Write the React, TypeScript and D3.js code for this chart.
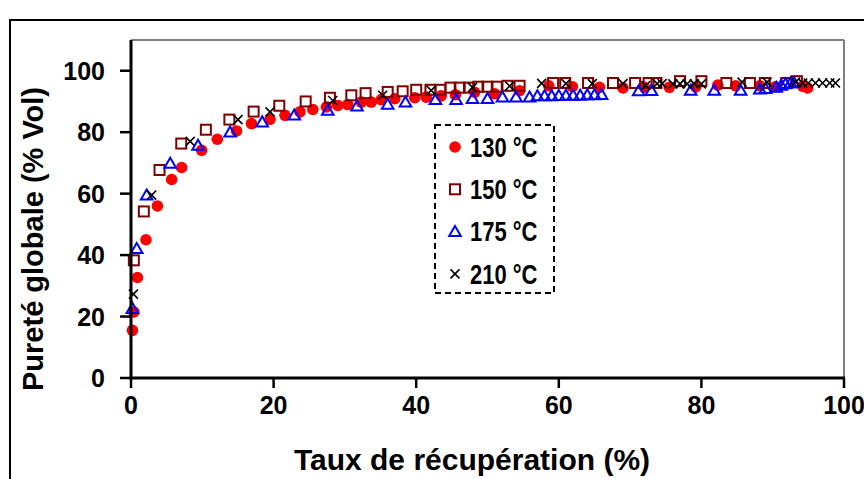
import React from "react";
import * as d3 from "d3";

const xTicks = [0, 20, 40, 60, 80, 100];
const yTicks = [0, 20, 40, 60, 80, 100];

const s130x = [0.2, 0.4, 0.9, 2.1, 3.7, 5.7, 7.1, 9.9, 12.1, 14.8, 16.9, 19.5, 21.6, 23.7, 25.5, 27.4, 29, 30.4, 32.3, 33.7, 35.1, 37, 39.8, 41.4, 43.5, 45.5, 48.2, 51, 54.5, 58.6, 61.9, 65.7, 69, 72, 75.5, 79.2, 82.3, 84.8, 88.2, 90.4, 94.2, 94.9];
const s130y = [15.5, 21.5, 32.7, 45, 56, 64.6, 68.5, 74.1, 77.7, 80.4, 82.8, 84.2, 85.5, 86.6, 87.4, 88.2, 88.7, 89, 89.8, 89.8, 90.6, 90.9, 91.2, 91.4, 91.8, 92.2, 93, 92.5, 93.5, 95.1, 94.8, 94.6, 94.4, 94.6, 94.6, 94.7, 95.3, 95.1, 95.1, 94.8, 95, 94.4];

const s150x = [0.4, 1.8, 4.0, 7.05, 10.5, 13.8, 17.2, 20.8, 24.5, 27.9, 30.9, 32.9, 36, 38.1, 40, 42, 43.4, 44.8, 46.1, 47.4, 48.7, 50, 51.3, 52.8, 54.5, 59.2, 60.9, 64.1, 67.6, 70.7, 72.6, 73.7, 77, 80, 83.5, 86.8, 88.9, 91.9, 93.4];
const s150y = [38.3, 54.2, 67.7, 76.3, 80.8, 84.1, 86.7, 88.6, 90, 91.2, 92, 92.7, 93.1, 93.3, 93.8, 93.8, 93.8, 94.5, 94.5, 94.5, 94.8, 94.8, 94.8, 95.1, 95.1, 96, 96, 96, 96, 96, 96, 96, 96.6, 96.6, 96, 96, 96, 96, 96.6];

const s175x = [0.2, 0.8, 2.2, 5.5, 9.4, 13.9, 18.4, 22.9, 27.6, 31.7, 36, 38.5, 42.7, 45.6, 47.9, 50, 52.1, 54, 55.9, 57, 58, 59, 60, 61, 62, 63, 64, 65, 66, 71.2, 73, 78.5, 81.8, 85.5, 88.2, 89, 90.5, 91.2, 91.8, 92.5, 93];
const s175y = [22.6, 42.1, 59.5, 69.8, 75.7, 80, 83.3, 85.5, 87.1, 88.5, 89, 89.8, 90.6, 90.6, 90.9, 90.9, 91.4, 91.4, 91.4, 91.8, 91.8, 91.8, 91.9, 92, 92, 92, 92.1, 92.1, 92.2, 93.4, 93.5, 93.6, 93.6, 93.6, 94, 94.2, 94.6, 95.2, 95.7, 96, 96];

const s210x = [0.33, 2.9, 8.3, 15, 19.5, 28.3, 35.3, 42.1, 47.9, 53.1, 57.6, 61, 64.7, 69, 72.2, 73.8, 74.5, 76, 77, 78, 79, 80, 85.7, 89.2, 93.2, 94.2, 95, 96, 97, 98, 98.8];
const s210y = [27.3, 59.5, 77, 84.1, 86.6, 90.3, 92, 93.6, 94.6, 95, 95.9, 95.8, 95.8, 95.8, 95.2, 95.8, 95.8, 95.7, 95.7, 95.7, 95.7, 95.7, 96.3, 96.3, 96.3, 96, 96, 96, 96, 96, 96];

const legendLabels = ["130 °C", "150 °C", "175 °C", "210 °C"];

const W = 864;
const H = 479;
const x = d3.scaleLinear().domain([0, 100]).range([131, 844]);
const y = d3.scaleLinear().domain([0, 110]).range([378, 40]);

const RED = "#FF0000";
const BROWN = "#800000";
const BLUE = "#0000FF";

function Marker({ kind, cx, cy }: { kind: number; cx: number; cy: number }) {
  if (kind === 0) return <circle cx={cx} cy={cy} r={5.8} fill={RED} />;
  if (kind === 1)
    return <rect x={cx - 5} y={cy - 5} width={10} height={10} fill="none" stroke={BROWN} strokeWidth={2} />;
  if (kind === 2) {
    const tri = d3.symbol().type(d3.symbolTriangle).size(58)();
    return <path d={tri as string} transform={`translate(${cx},${cy + 1})`} fill="none" stroke={BLUE} strokeWidth={2} />;
  }
  const k = 4.5;
  return (
    <path
      d={`M${cx - k},${cy - k}L${cx + k},${cy + k}M${cx - k},${cy + k}L${cx + k},${cy - k}`}
      stroke="#000"
      strokeWidth={1.6}
      fill="none"
    />
  );
}

export default function App() {
  const series = [
    { xs: s130x, ys: s130y },
    { xs: s150x, ys: s150y },
    { xs: s175x, ys: s175y },
    { xs: s210x, ys: s210y },
  ];
  const font = "Arial, 'Liberation Sans', sans-serif";
  return (
    <svg
      width={W}
      height={H}
      style={{ position: "absolute", left: 0, top: 0, background: "#fff" }}
      fontFamily={font}
    >
      <rect x={0} y={0} width={W} height={H} fill="#fff" />
      {/* outer frame */}
      <line x1={9} y1={20} x2={W} y2={20} stroke="#000" strokeWidth={2} />
      <line x1={10} y1={20} x2={10} y2={H} stroke="#000" strokeWidth={2} />
      {/* plot border */}
      <line x1={131} y1={40} x2={844} y2={40} stroke="#808080" strokeWidth={2} />
      <line x1={844} y1={40} x2={844} y2={378} stroke="#808080" strokeWidth={2} />

      {/* data */}
      {series.map((s, si) =>
        s.xs.map((xv, i) => <Marker key={`${si}-${i}`} kind={si} cx={x(xv)} cy={y(s.ys[i])} />)
      )}

      {/* axes */}
      <line x1={131} y1={40} x2={131} y2={379.5} stroke="#000" strokeWidth={3} />
      <line x1={129.5} y1={378} x2={845} y2={378} stroke="#000" strokeWidth={3} />
      {yTicks.map((t) => (
        <g key={`y${t}`}>
          <line x1={120} y1={y(t)} x2={131} y2={y(t)} stroke="#000" strokeWidth={2.5} />
          <text x={105} y={y(t)} dy="0.36em" textAnchor="end" fontSize={25} fontWeight="bold">
            {t}
          </text>
        </g>
      ))}
      {xTicks.map((t) => (
        <g key={`x${t}`}>
          <line x1={x(t)} y1={378} x2={x(t)} y2={388} stroke="#000" strokeWidth={2.5} />
          <text x={x(t)} y={414} textAnchor="middle" fontSize={25} fontWeight="bold">
            {t}
          </text>
        </g>
      ))}

      {/* axis titles */}
      <text x={472} y={470} textAnchor="middle" fontSize={30} fontWeight="bold">
        Taux de récupération (%)
      </text>
      <text
        transform={`translate(43,239) rotate(-90)`}
        textAnchor="middle"
        fontSize={29}
        fontWeight="bold"
      >
        Pureté globale (% Vol)
      </text>

      {/* legend */}
      <rect x={435} y={125} width={119} height={168} fill="#fff" stroke="#000" strokeWidth={2} strokeDasharray="6,4" />
      {legendLabels.map((lab, i) => {
        const cy = 147 + i * 42.3;
        return (
          <g key={lab}>
            <Marker kind={i} cx={455} cy={cy} />
            <text
              x={470}
              y={cy}
              dy="0.36em"
              fontSize={22}
              fontWeight="bold"
              transform={`translate(0,${cy}) scale(1,1.22) translate(0,${-cy})`}
            >
              {lab}
            </text>
          </g>
        );
      })}
    </svg>
  );
}
